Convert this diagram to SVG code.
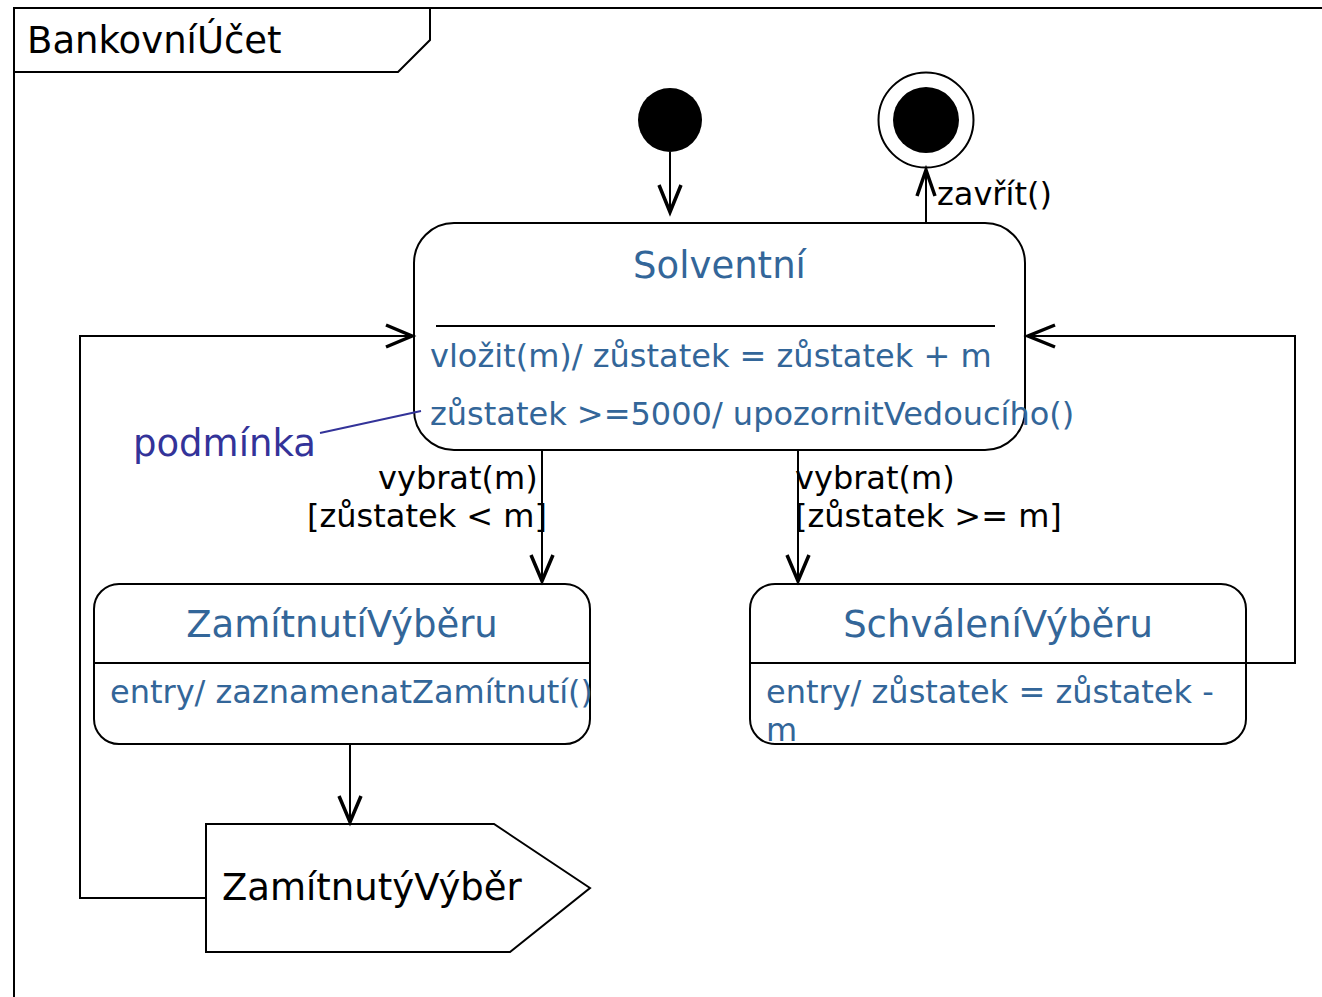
<svg xmlns="http://www.w3.org/2000/svg" width="1322" height="997" viewBox="0 0 1322 997">
<style>
text{font-family:"DejaVu Sans","Liberation Sans",sans-serif}
.ln{fill:none;stroke:#000;stroke-width:2}
.ah{fill:none;stroke:#000;stroke-width:3.5}
.st{fill:#fff;stroke:#000;stroke-width:2}
.ttl{font-size:37px;fill:#336699}
.ent{font-size:32px;fill:#336699}
.lbl{font-size:32px;fill:#000}
</style>
<rect width="1322" height="997" fill="#fff"/>
<g id="frame">
<path class="ln" d="M14,997 V8 H1322"/>
<path class="ln" d="M14,8 H430 V40 L398,72 H14"/>
<text x="27" y="53" style="font-size:37px" fill="#000">BankovníÚčet</text>
</g>
<g id="initial">
<circle cx="670" cy="120" r="32" fill="#000"/>
</g>
<g id="final">
<circle cx="926" cy="120" r="47.5" fill="#fff" stroke="#000" stroke-width="2"/>
<circle cx="926" cy="120" r="33" fill="#000"/>
</g>
<g id="solventni">
<rect class="st" x="414" y="223" width="611" height="227" rx="40"/>
<text class="ttl" x="719.5" y="278" text-anchor="middle">Solventní</text>
<line class="ln" x1="436" y1="326" x2="995" y2="326"/>
<text class="ent" x="430" y="367">vložit(m)/ zůstatek = zůstatek + m</text>
<text class="ent" x="430" y="425">zůstatek &gt;=5000/ upozornitVedoucího()</text>
</g>
<g id="zamitnuti">
<rect class="st" x="94" y="584" width="496" height="160" rx="25"/>
<text class="ttl" x="342" y="637" text-anchor="middle">ZamítnutíVýběru</text>
<line class="ln" x1="94" y1="663" x2="590" y2="663"/>
<text class="ent" x="110" y="703">entry/ zaznamenatZamítnutí()</text>
</g>
<g id="schvaleni">
<rect class="st" x="750" y="584" width="496" height="160" rx="25"/>
<text class="ttl" x="998" y="637" text-anchor="middle">SchváleníVýběru</text>
<line class="ln" x1="750" y1="663" x2="1246" y2="663"/>
<text class="ent" x="766" y="703">entry/ zůstatek = zůstatek -</text>
<text class="ent" x="766" y="741">m</text>
</g>
<g id="signal">
<path class="st" d="M206,824 H494 L590,888 L510,952 H206 Z"/>
<text x="222" y="900" style="font-size:37px" fill="#000">ZamítnutýVýběr</text>
</g>
<g id="note">
<text x="133" y="456" style="font-size:37px" fill="#333399">podmínka</text>
<line x1="320" y1="433" x2="421" y2="411" stroke="#333399" stroke-width="2"/>
</g>
<g id="connectors">
<line class="ln" x1="670" y1="152" x2="670" y2="212"/>
<path class="ah" d="M659,185 L670,212 L681,185"/>
<line class="ln" x1="926" y1="223" x2="926" y2="170"/>
<path class="ah" d="M917,196 L926,170 L935,196"/>
<text class="lbl" x="937" y="205">zavřít()</text>
<path class="ln" d="M206,898 H80 V336 H412"/>
<path class="ah" d="M386,325 L412,336 L386,347"/>
<path class="ln" d="M1246,663 H1295 V336 H1028"/>
<path class="ah" d="M1055,325 L1028,336 L1055,347"/>
<line class="ln" x1="542" y1="450" x2="542" y2="581"/>
<path class="ah" d="M531,555 L542,581 L553,555"/>
<text class="lbl" x="378" y="489">vybrat(m)</text>
<text class="lbl" x="307" y="527">[zůstatek &lt; m]</text>
<line class="ln" x1="798" y1="450" x2="798" y2="581"/>
<path class="ah" d="M787,555 L798,581 L809,555"/>
<text class="lbl" x="795" y="489">vybrat(m)</text>
<text class="lbl" x="795" y="527">[zůstatek &gt;= m]</text>
<line class="ln" x1="350" y1="744" x2="350" y2="822"/>
<path class="ah" d="M339,796 L350,822 L361,796"/>
</g>
</svg>
